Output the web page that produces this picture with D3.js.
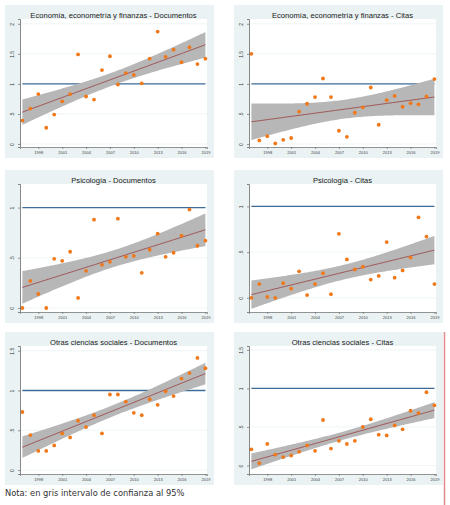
<!DOCTYPE html>
<html>
<head>
<meta charset="utf-8">
<script src="https://cdn.jsdelivr.net/npm/d3@7.9.0/dist/d3.min.js"></script>
<style>
  body { margin: 0; background: #fff; }
  svg { display: block; }
</style>
</head>
<body>
<svg id="chart" width="450" height="505"></svg>
<script>
// years on the x axis
const years = [1996, 1997, 1998, 1999, 2000, 2001, 2002, 2003, 2004, 2005, 2006, 2007,
               2008, 2009, 2010, 2011, 2012, 2013, 2014, 2015, 2016, 2017, 2018, 2019];
const xTickYears = [1998, 2001, 2004, 2007, 2010, 2013, 2016, 2019];

// values
const econDocs   = [0.39, 0.59, 0.83, 0.27, 0.49, 0.71, 0.83, 1.49, 0.79, 0.74, 1.23, 1.46,
                    0.99, 1.18, 1.15, 1.01, 1.42, 1.87, 1.45, 1.57, 1.36, 1.61, 1.33, 1.42];
const econCitas  = [1.50, 0.06, 0.13, 0.01, 0.07, 0.10, 0.54, 0.67, 0.78, 1.09, 0.78, 0.22,
                    0.12, 0.52, 0.61, 0.94, 0.32, 0.73, 0.80, 0.62, 0.68, 0.66, 0.79, 1.08];
const psicoDocs  = [0.00, 0.27, 0.14, 0.00, 0.49, 0.47, 0.56, 0.10, 0.37, 0.88, 0.43, 0.46,
                    0.89, 0.51, 0.52, 0.35, 0.58, 0.74, 0.51, 0.55, 0.72, 0.98, 0.62, 0.67];
const psicoCitas = [0.00, 0.15, 0.01, 0.00, 0.16, 0.10, 0.29, 0.03, 0.15, 0.27, 0.04, 0.70,
                    0.42, 0.31, 0.34, 0.20, 0.24, 0.61, 0.22, 0.30, 0.44, 0.88, 0.67, 0.15];
const otrasDocs  = [0.73, 0.44, 0.24, 0.24, 0.31, 0.46, 0.41, 0.62, 0.54, 0.69, 0.46, 0.95,
                    0.95, 0.86, 0.72, 0.69, 0.89, 0.82, 0.99, 0.93, 1.15, 1.22, 1.41, 1.28];
const otrasCitas = [0.21, 0.03, 0.28, 0.14, 0.11, 0.13, 0.18, 0.26, 0.19, 0.59, 0.22, 0.32,
                    0.28, 0.32, 0.50, 0.60, 0.40, 0.39, 0.52, 0.47, 0.71, 0.68, 0.95, 0.78];

const titles = [
  'Economía, econometría y finanzas - Documentos',
  'Economía, econometría y finanzas - Citas',
  'Psicología - Documentos',
  'Psicología - Citas',
  'Otras ciencias sociales - Documentos',
  'Otras ciencias sociales - Citas'
];
const yTicks12 = [0, 0.5, 1, 1.5, 2];
const yTicks1 = [0, 0.5, 1];
const yTicks15 = [0, 0.5, 1, 1.5];
const refValue = 1;
const note = 'Nota: en gris intervalo de confianza al 95%';

const panels = [
  { title: titles[0], values: econDocs,   ticks: yTicks12, domain: [-0.05, 2.08], col: 0, row: 0 },
  { title: titles[1], values: econCitas,  ticks: yTicks12, domain: [-0.05, 2.08], col: 1, row: 0 },
  { title: titles[2], values: psicoDocs,  ticks: yTicks1,  domain: [-0.04, 1.235], col: 0, row: 1 },
  { title: titles[3], values: psicoCitas, ticks: yTicks1,  domain: [-0.155, 1.245], col: 1, row: 1 },
  { title: titles[4], values: otrasDocs,  ticks: yTicks15, domain: [-0.05, 1.56], col: 0, row: 2 },
  { title: titles[5], values: otrasCitas, ticks: yTicks15, domain: [-0.11, 1.55], col: 1, row: 2 }
];

const colX = [5, 234];
const rowY = [5, 170, 332];
const PW = 209, PH = 153;
const bgColor = '#eaf2f3';

// linear fit with 95% CI of the mean prediction (like lfitci)
function linFit(xs, ys) {
  const n = xs.length;
  const mx = d3.mean(xs), my = d3.mean(ys);
  let sxx = 0, sxy = 0;
  xs.forEach((x, i) => { sxx += (x - mx) ** 2; sxy += (x - mx) * (ys[i] - my); });
  const b = sxy / sxx, a = my - b * mx;
  let sse = 0;
  xs.forEach((x, i) => { sse += (ys[i] - a - b * x) ** 2; });
  const s = Math.sqrt(sse / (n - 2));
  const t = 2.0739; // t(0.975, 22)
  return x => {
    const yhat = a + b * x;
    const se = s * Math.sqrt(1 / n + (x - mx) ** 2 / sxx);
    return { x, yhat, lo: yhat - t * se, hi: yhat + t * se };
  };
}

const svg = d3.select('#chart');

panels.forEach(p => {
  const ox = colX[p.col], oy = rowY[p.row];
  const g = svg.append('g').attr('transform', `translate(${ox},${oy})`);

  g.append('rect').attr('width', PW).attr('height', PH).attr('fill', bgColor);

  const left = 15, right = 202, top = 14, bottom = 142;
  g.append('rect')
    .attr('x', left).attr('y', top)
    .attr('width', right - left).attr('height', bottom - top)
    .attr('fill', '#fff');

  const x = d3.scaleLinear().domain([1995.7, 2019.2]).range([left, right]);
  const y = d3.scaleLinear().domain(p.domain).range([bottom, top]);

  // grid lines
  g.selectAll('.grid').data(p.ticks).join('line')
    .attr('x1', left).attr('x2', right)
    .attr('y1', d => y(d)).attr('y2', d => y(d))
    .attr('stroke', bgColor).attr('stroke-width', 0.8);

  // reference line at 1
  g.append('line')
    .attr('x1', x(years[0])).attr('x2', x(years[years.length - 1]))
    .attr('y1', y(refValue)).attr('y2', y(refValue))
    .attr('stroke', '#3f6b98').attr('stroke-width', 1.3);

  // fit and CI band
  const fit = linFit(years, p.values);
  const xs = d3.range(0, 101).map(i => years[0] + (years[years.length - 1] - years[0]) * i / 100);
  const band = xs.map(fit);
  g.append('path').datum(band)
    .attr('d', d3.area().x(d => x(d.x)).y0(d => y(d.lo)).y1(d => y(d.hi)))
    .attr('fill', '#b7b7b7');
  g.append('path').datum(band)
    .attr('d', d3.line().x(d => x(d.x)).y(d => y(d.yhat)))
    .attr('fill', 'none').attr('stroke', '#9c4a4a').attr('stroke-width', 0.9);

  // points
  g.selectAll('.pt').data(p.values).join('circle')
    .attr('cx', (d, i) => x(years[i])).attr('cy', d => y(d))
    .attr('r', 1.9).attr('fill', '#f07818');

  // axes
  const yAxis = g.append('g').attr('transform', `translate(${left},0)`)
    .call(d3.axisLeft(y).tickValues(p.ticks).tickSize(2).tickPadding(3)
      .tickFormat(d => d === 0 ? '0' : d3.format('.1~f')(d).replace(/^0/, '')));
  yAxis.select('.domain').attr('stroke', '#555').attr('stroke-width', 0.7);
  yAxis.selectAll('.tick line').attr('stroke', '#555').attr('stroke-width', 0.6);
  yAxis.selectAll('.tick text')
    .attr('font-family', 'Liberation Sans, Arial, sans-serif').attr('font-size', 5)
    .attr('fill', '#333')
    .attr('text-anchor', 'middle')
    .attr('transform', 'rotate(-90)')
    .attr('x', 0).attr('y', -6).attr('dy', 0);

  const xAxis = g.append('g').attr('transform', `translate(0,${bottom})`)
    .call(d3.axisBottom(x).tickValues(xTickYears).tickSize(2).tickPadding(2.5)
      .tickFormat(d3.format('d')));
  xAxis.select('.domain').attr('stroke', '#888').attr('stroke-width', 0.9);
  xAxis.selectAll('.tick line').attr('stroke', '#666').attr('stroke-width', 0.6);
  xAxis.selectAll('.tick text')
    .attr('font-family', 'Liberation Sans, Arial, sans-serif').attr('font-size', 4)
    .attr('fill', '#444');

  // title
  g.append('text')
    .attr('x', (left + right) / 2).attr('y', 13)
    .attr('text-anchor', 'middle')
    .attr('font-family', 'Liberation Sans, Arial, sans-serif').attr('font-size', 7.6)
    .attr('fill', '#222')
    .text(p.title);
});

// red vertical rule on the right
svg.append('line')
  .attr('x1', 444.5).attr('x2', 444.5).attr('y1', 332).attr('y2', 505)
  .attr('stroke', '#e08a8a').attr('stroke-width', 1.5);

svg.append('text')
  .attr('x', 5).attr('y', 496)
  .attr('font-family', 'DejaVu Sans, Verdana, sans-serif').attr('font-size', 8.3)
  .attr('fill', '#333')
  .text(note);
</script>
</body>
</html>
